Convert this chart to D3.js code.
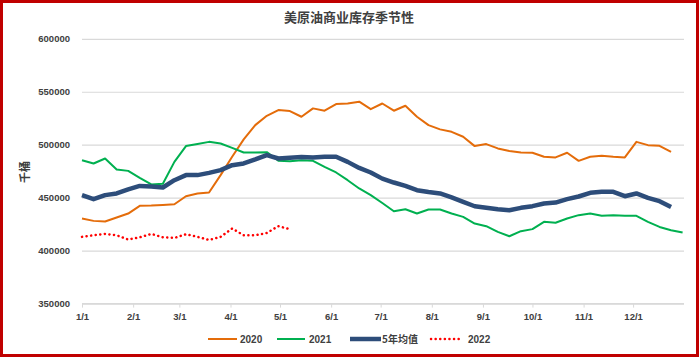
<!DOCTYPE html>
<html><head><meta charset="utf-8">
<script src="https://cdn.jsdelivr.net/npm/d3@7"></script>
<style>
html,body{margin:0;padding:0;background:#fff;}
svg text{font-family:"Liberation Sans","Noto Sans CJK SC",sans-serif;}
</style></head>
<body><div id="chart"></div>
<script>
const title = "美原油商业库存季节性";
const yLabel = "千桶";
const monthLabels = ["1/1","2/1","3/1","4/1","5/1","6/1","7/1","8/1","9/1","10/1","11/1","12/1"];
const monthStartDays = [0,31,59,90,120,151,181,212,243,273,304,334];
const yTicks = [350000,400000,450000,500000,550000,600000];
const seriesNames = ["2020","2021","5年均值","2022"];

const s2020 = [430300,428100,427500,431300,435000,442300,442600,443200,443800,451400,453900,454900,471300,488600,505000,518500,527300,532700,531800,526400,534300,532100,538400,539000,540600,533600,538900,532100,536800,526400,518500,514500,512200,507500,498700,500600,496500,494000,492700,492400,488600,488000,492400,484800,488600,489500,488600,488000,502700,499600,499000,493300];
const s2021 = [485400,482300,487000,476700,475300,468700,462500,463100,483800,498700,500600,502700,501200,497000,492700,492700,493000,484800,484500,485400,484800,479100,473800,466500,458700,452400,445000,437200,439100,435100,438800,438800,435100,431900,425600,423100,417700,413600,418400,420300,427200,426300,430300,433500,435100,432900,433500,432900,432900,427200,422400,419300,417100];
const s5yr = [452400,448600,452400,454000,457800,461100,460600,459600,466500,471300,471300,473400,476000,480700,482300,486100,490200,487000,487600,488300,488000,488600,488600,483800,478100,473800,468000,464300,461100,457100,455400,454000,450200,446000,441900,440400,439100,438200,440400,442000,444500,445400,448600,451100,454600,455500,455500,451400,454000,449800,446700,441300];
const s2022 = [413000,414500,415800,414500,410500,412600,415800,412600,412000,415500,413000,410100,413000,420900,414500,414500,416700,423100,420300];

const W = 699, H = 357;
const svg = d3.select("#chart").append("svg").attr("width", W).attr("height", H);

svg.append("rect").attr("x",1.5).attr("y",1.5).attr("width",W-3).attr("height",H-3)
  .attr("fill","#fff").attr("stroke","#c00000").attr("stroke-width",3);

const x = d3.scaleLinear().domain([0,52]).range([82, 682.6]);
const y = d3.scaleLinear().domain([350000,600000]).range([303.6, 38.8]);

svg.append("text").attr("x",349).attr("y",22).attr("text-anchor","middle")
  .attr("font-size",13).attr("font-weight","bold").attr("fill","#404040")
  .style("font-family","'Noto Sans CJK SC',sans-serif").text(title);

// grid
const yAxis = d3.axisLeft(y).tickValues(yTicks).tickSize(-(684-82)).tickFormat(d3.format("d")).tickPadding(12);
const gy = svg.append("g").attr("transform","translate(82,0)").call(yAxis);
gy.select(".domain").remove();
gy.selectAll(".tick line").attr("stroke","#d9d9d9").attr("stroke-width",1.2);
gy.selectAll(".tick text").attr("font-size",9.5).attr("font-weight","bold").attr("fill","#404040");

// x axis
const xAxis = d3.axisBottom(x).tickValues(monthStartDays.map(d=>d/7))
  .tickFormat((d,i)=>monthLabels[i]).tickSizeInner(4).tickSizeOuter(0).tickPadding(6);
const gx = svg.append("g").attr("transform","translate(0,303.6)").call(xAxis);
gx.select(".domain").attr("d","M82,0H684").attr("stroke","#d9d9d9").attr("stroke-width",1.2);
gx.selectAll(".tick line").attr("stroke","#d9d9d9");
gx.selectAll(".tick text").attr("font-size",9.5).attr("font-weight","bold").attr("fill","#404040");

svg.append("text").attr("transform","translate(29,172) rotate(-90)").attr("text-anchor","middle")
  .attr("font-size",11).attr("font-weight","bold").attr("fill","#404040")
  .style("font-family","'Noto Sans CJK SC',sans-serif").text(yLabel);

const line = d3.line().x((d,i)=>x(i)).y(d=>y(d));
const styles = [
  {data:s2020, color:"#e46c0a", w:2, dash:null},
  {data:s2021, color:"#00b050", w:2, dash:null},
  {data:s5yr, color:"#2d4d7a", w:4.5, dash:null},
  {data:s2022, color:"#ff0000", w:2, dash:"0.1,4.5"}
];
const order = [0,1,2,3];
order.forEach(k=>{
  const s = styles[k];
  const p = svg.append("path").datum(s.data).attr("d",line).attr("fill","none")
    .attr("stroke",s.color).attr("stroke-width",s.w).attr("stroke-linejoin","round");
  if (s.dash) p.attr("stroke-dasharray",s.dash).attr("stroke-linecap","round").attr("stroke-width",2.5);
});

// legend
const legendItems = [
  {x1:208,x2:237,tx:240},
  {x1:277,x2:305,tx:309},
  {x1:350,x2:381,tx:382},
  {x1:431,x2:462,tx:468}
];
legendItems.forEach((L,i)=>{
  const s = styles[i];
  const ln = svg.append("line").attr("x1",L.x1).attr("x2",L.x2).attr("y1",339).attr("y2",339)
    .attr("stroke",s.color).attr("stroke-width",s.w);
  if (s.dash) ln.attr("stroke-dasharray",s.dash).attr("stroke-linecap","round").attr("stroke-width",2.5);
  svg.append("text").attr("x",L.tx).attr("y",343).attr("font-size",10).attr("font-weight","bold")
    .attr("fill","#404040").style("font-family", i===2 ? "'Noto Sans CJK SC',sans-serif" : null)
    .text(seriesNames[i]);
});
</script></body></html>
